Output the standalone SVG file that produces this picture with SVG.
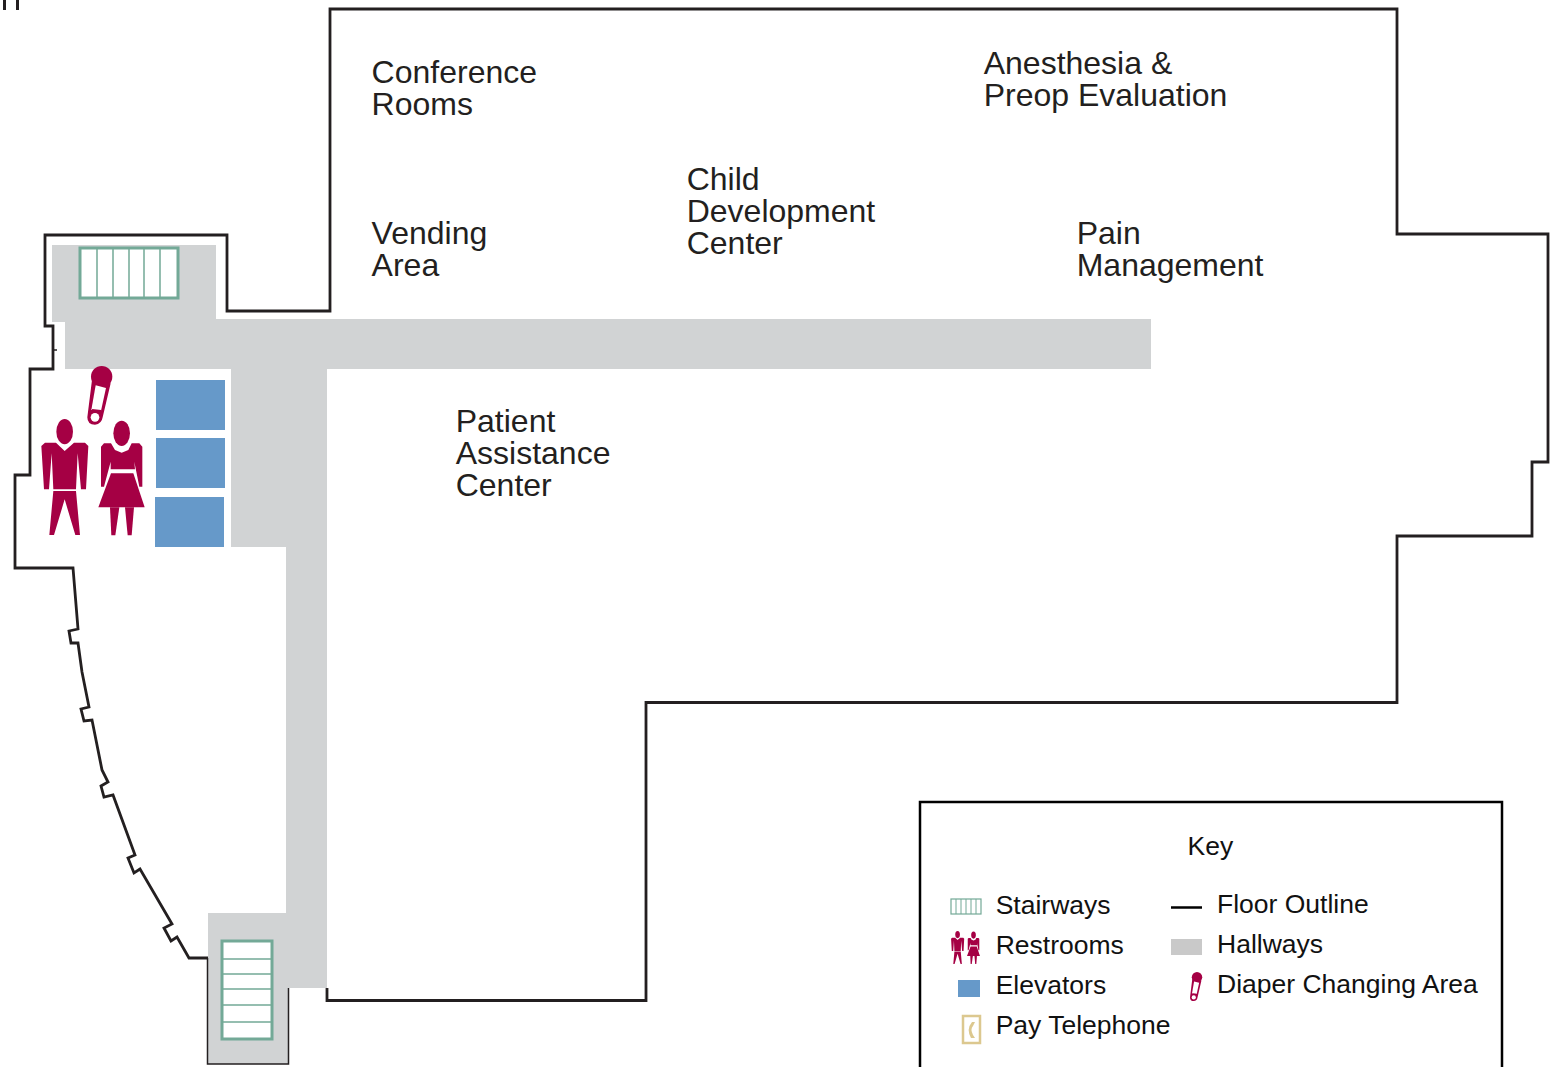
<svg xmlns="http://www.w3.org/2000/svg" xmlns:xlink="http://www.w3.org/1999/xlink" width="1555" height="1067" viewBox="0 0 1555 1067">
<style>
.t{font-family:"Liberation Sans",Arial,sans-serif;fill:#231f20}
.l{font-size:32px}
.k{font-size:26.500px;fill:#111}
.o{fill:none;stroke:#231f20;stroke-width:2.800;stroke-linejoin:miter}
.s{fill:#fff;stroke:#73a997;stroke-width:3}
.d{stroke:#73a997;stroke-width:1.500;fill:none}
.e{fill:#6699c9}
.m{fill:#a50044}
</style>
<defs>
<g id="people" class="m">
<ellipse cx="194" cy="635" rx="25" ry="38"/>
<polygon points="124,678 135,668 168,668 194,693 222,668 255,668 265,678 258,808 243,808 233,700 228,808 160,808 155,700 147,808 132,808"/>
<polygon points="160,813 228,813 240,945 226,945 194,838 162,945 148,945"/>
<ellipse cx="365" cy="640" rx="25" ry="38"/>
<polygon points="303,680 312,670 333,670 345,690 365,698 385,690 395,670 418,670 427,680 427,800 418,800 403,725 405,748 332,748 332,725 312,800 303,800"/>
<polygon points="333,760 400,760 434,862 295,862"/>
<polygon points="330,862 358,862 346,946 334,946"/>
<polygon points="375,862 402,862 395,946 383,946"/>
</g>
<g id="pin">
<circle class="m" cx="305" cy="470" r="32"/>
<path class="m" d="M276,480 L262,592 Q262,614 285,614 Q305,612 308,592 L332,490 Z"/>
<polygon fill="#fff" points="287,496 318,504 303,572 274,570"/>
<circle fill="#fff" cx="285" cy="592" r="13"/>
<path d="M276,570 L303,573" stroke="#a50044" stroke-width="6"/>
</g>
</defs>
<g id="clipped-mark"><rect x="3" y="0" width="3" height="10" fill="#231f20"/><rect x="16" y="0" width="3" height="10" fill="#231f20"/></g>
<g id="hallways"><polygon fill="#d1d3d4" points="52,245 216,245 216,319 1151,319 1151,369 327,369 327,988 288,988 288,1064 208,1064 208,913 286,913 286,547 231,547 231,369 65,369 65,322 52,322"/></g>
<g id="floor-outline"><path class="o" d="M327,988 L327,1000.500 L646,1000.500 L646,702.500 L1397,702.500 L1397,536 L1532,536 L1532,462 L1548,462 L1548,234 L1397,234 L1397,9 L330,9 L330,311 L227,311 L227,235 L45,235 L45,326 L53,326 L53,369 L30,369 L30,475 L15,475 L15,568 L73,568 L78,629 L69,631 L71,643 L78,643 L82,672 L89,707 L81,709 L84,721 L92,720 L102,770 L108,782 L101,786 L104,797 L113,795 L135,855 L128,858 L134,873 L140,869 L172,924 L164,928 L171,941 L177,937 L189,958 L208,958"/>
<path d="M53,350 H57" fill="none" stroke="#231f20" stroke-width="1.500"/>
<path d="M207.500,958 V1064 H288.500 V988" fill="none" stroke="#231f20" stroke-width="1.500"/></g>
<g id="stairs-top"><rect class="s" x="80" y="248" width="98" height="50"/><path class="d" d="M97,248V298M113,248V298M129,248V298M144,248V298M160,248V298"/></g>
<g id="stairs-bottom"><rect class="s" x="222" y="941" width="50" height="98"/><path class="d" d="M222,959H272M222,974H272M222,989H272M222,1005H272M222,1022H272"/></g>
<g id="elevators"><rect class="e" x="156" y="380" width="69" height="50"/><rect class="e" x="156" y="438" width="69" height="50"/><rect class="e" x="155" y="497" width="69" height="50"/></g>
<g id="restrooms"><use xlink:href="#people" href="#people" transform="translate(0,220) scale(.33333)"/></g>
<g id="diaper"><use xlink:href="#pin" href="#pin" transform="translate(0,220) scale(.33333)"/></g>
<g id="labels">
<text class="t l" x="371.600" y="83">Conference</text><text class="t l" x="371.600" y="115">Rooms</text>
<text class="t l" x="983.700" y="74">Anesthesia &amp;</text><text class="t l" x="983.700" y="106">Preop Evaluation</text>
<text class="t l" x="686.700" y="190">Child</text><text class="t l" x="686.700" y="222">Development</text><text class="t l" x="686.700" y="254">Center</text>
<text class="t l" x="371.600" y="244">Vending</text><text class="t l" x="371.600" y="276">Area</text>
<text class="t l" x="1076.700" y="244">Pain</text><text class="t l" x="1076.700" y="276">Management</text>
<text class="t l" x="455.700" y="432">Patient</text><text class="t l" x="455.700" y="464">Assistance</text><text class="t l" x="455.700" y="496">Center</text>
</g>
<g id="key">
<path fill="none" stroke="#000" stroke-width="2.500" d="M920,1067V802H1502V1067"/>
<text class="t k" x="1187.500" y="855">Key</text>
<g id="key-stairs"><rect x="951" y="899" width="30" height="15" fill="#fff" stroke="#73a997" stroke-width="1.200"/><path d="M956,899v15M961,899v15M966,899v15M971,899v15M976,899v15" stroke="#73a997" stroke-width="1" fill="none"/></g>
<g id="key-restrooms"><use xlink:href="#people" href="#people" transform="translate(939.500,874.600) scale(.0932,.0945)"/></g>
<rect id="key-elevator" class="e" x="958" y="980" width="22" height="17"/>
<g id="key-phone"><rect x="963" y="1016" width="17" height="27" fill="#fff" stroke="#dcc88f" stroke-width="2.500"/><path d="M975,1022 L972,1022 Q966,1029 971,1038 L975,1038 L973,1035 Q970,1029 973,1026 Z" fill="#dcc88f"/></g>
<path id="key-outline" d="M1171,907.500H1202" stroke="#000" stroke-width="2.500"/>
<rect id="key-hall" x="1171" y="939" width="31" height="16" fill="#c9c9c9"/>
<g id="key-diaper"><use xlink:href="#pin" href="#pin" transform="translate(1147.300,899.700) scale(.163,.165)"/></g>
<text class="t k" x="995.700" y="914">Stairways</text>
<text class="t k" x="995.700" y="954">Restrooms</text>
<text class="t k" x="995.700" y="994">Elevators</text>
<text class="t k" x="995.700" y="1034">Pay Telephone</text>
<text class="t k" x="1217" y="913">Floor Outline</text>
<text class="t k" x="1217" y="953">Hallways</text>
<text class="t k" x="1217" y="993">Diaper Changing Area</text>
</g>
</svg>
